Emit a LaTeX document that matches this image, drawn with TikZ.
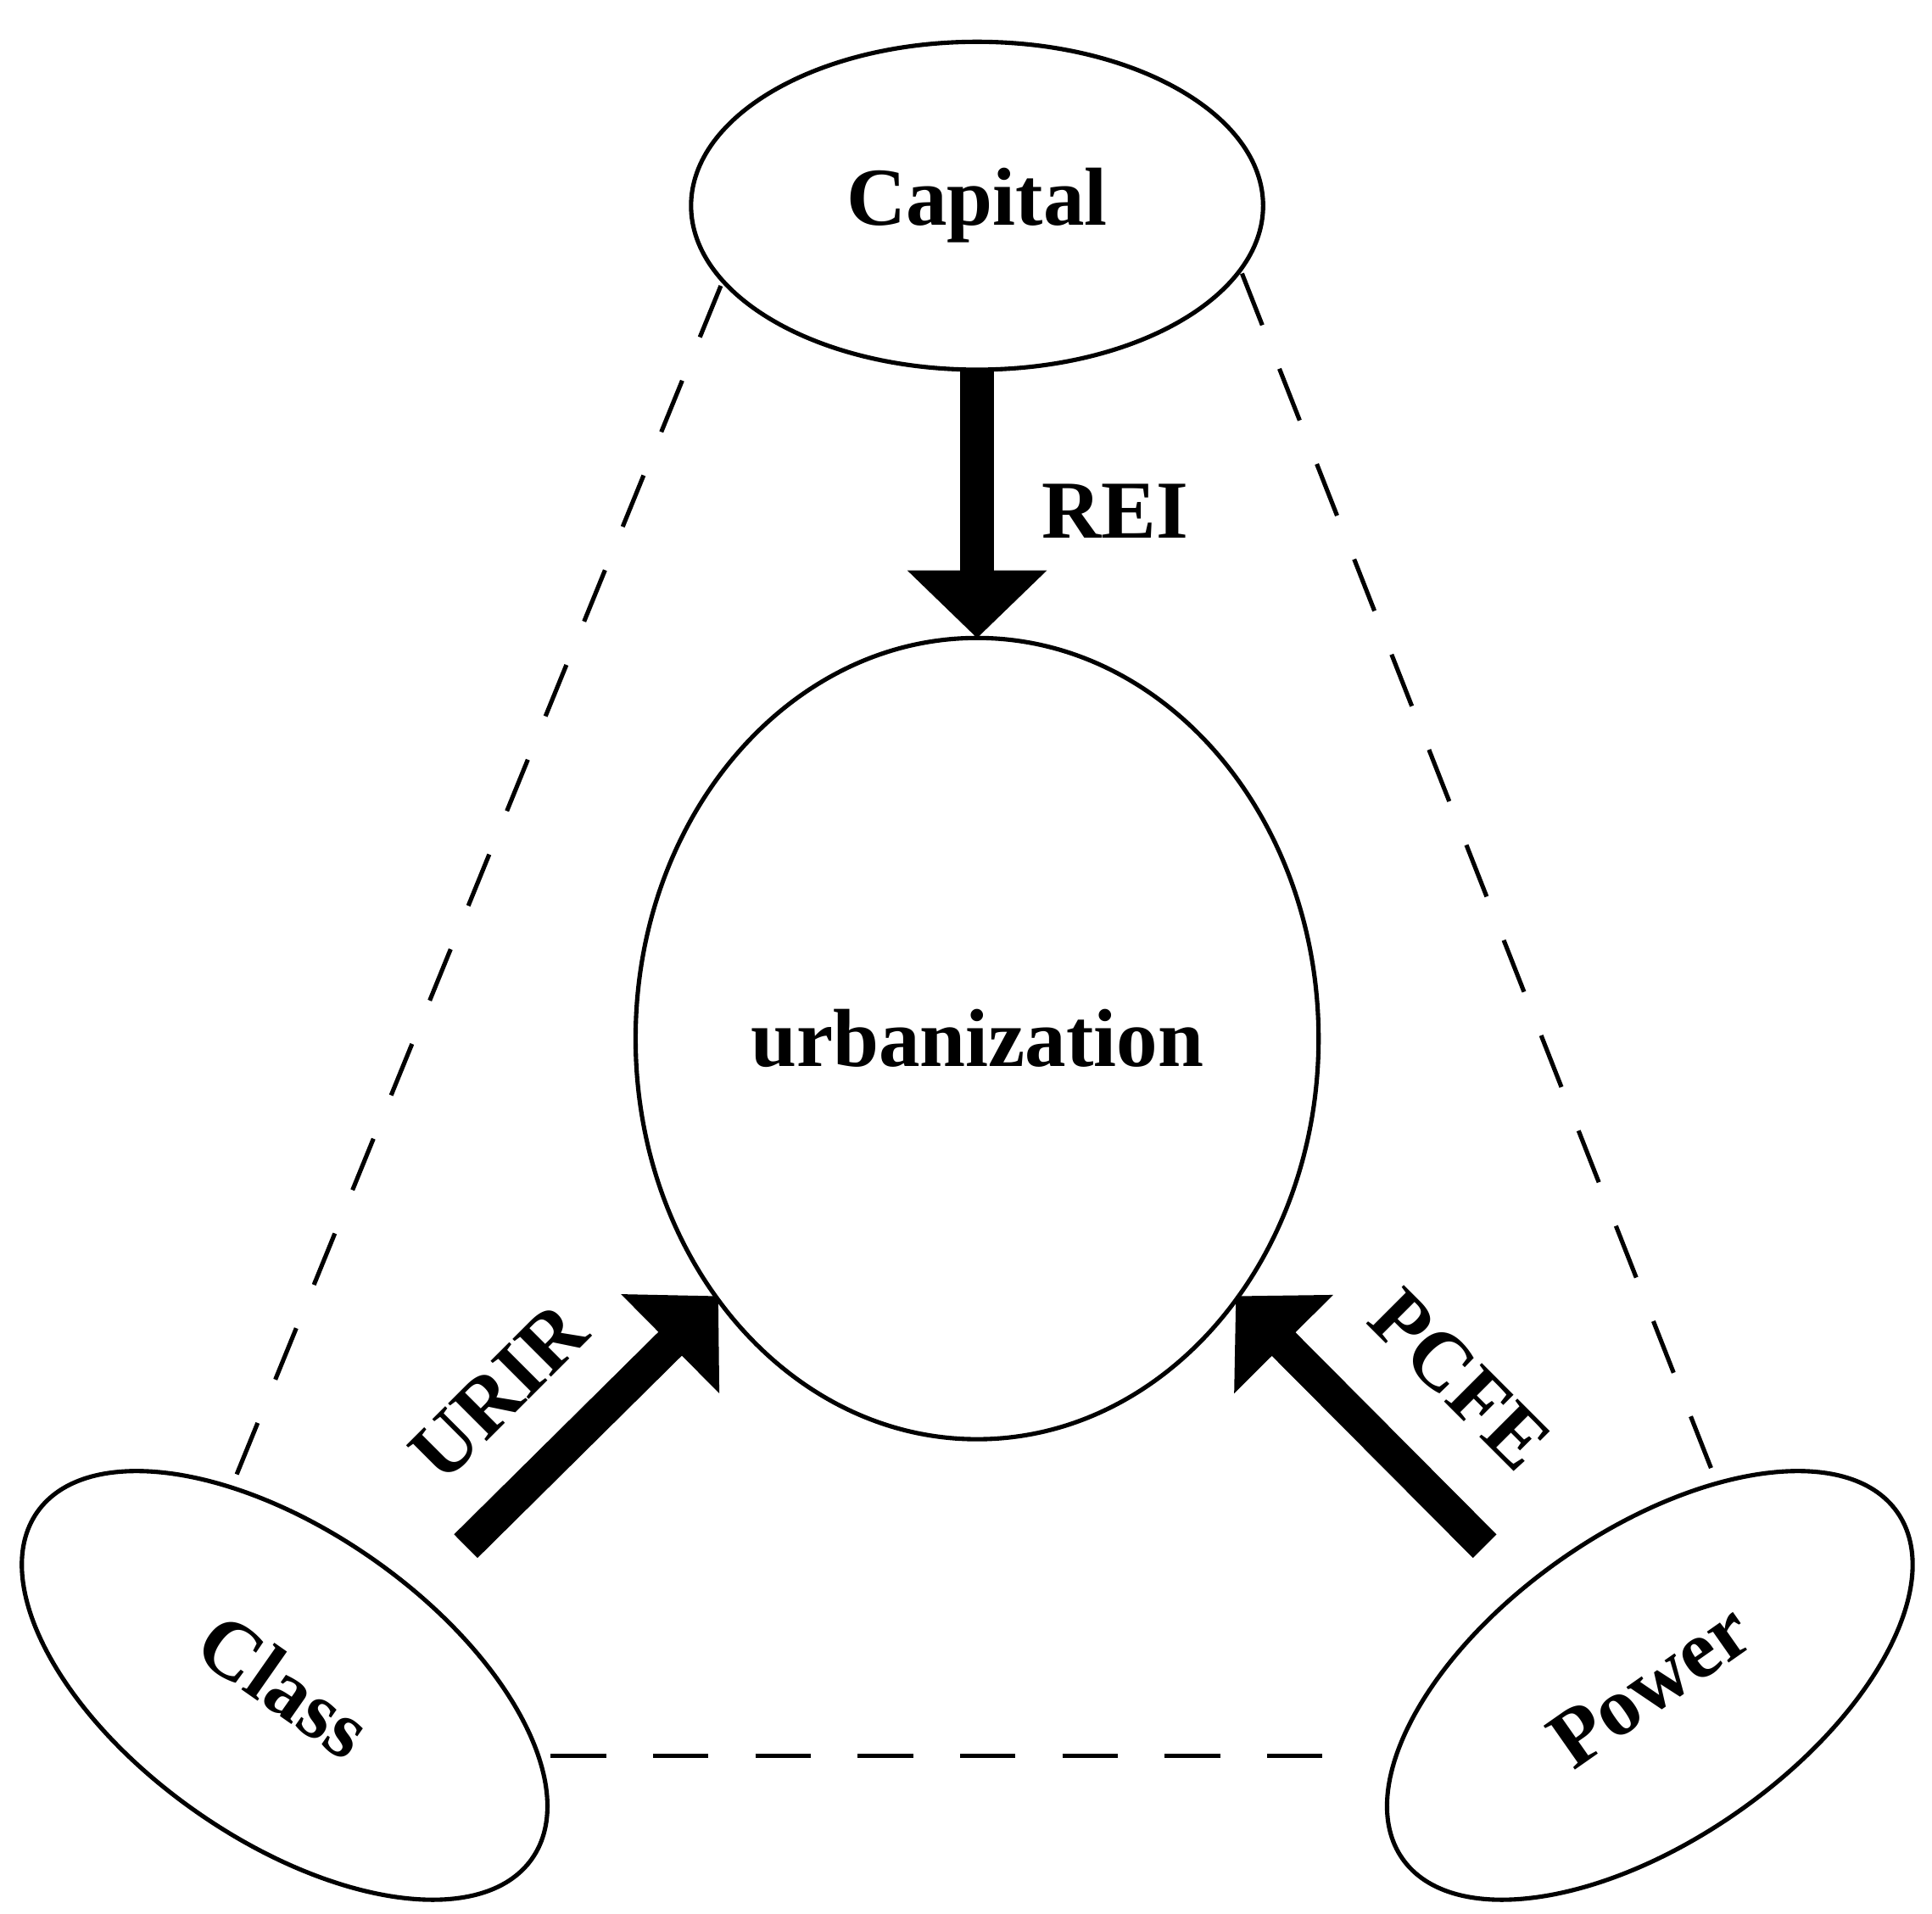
\documentclass[tikz,border=0pt]{standalone}
\usepackage{fontspec}
\setmainfont{Liberation Serif}
\usetikzlibrary{shapes.geometric,arrows.meta}
\begin{document}
\begin{tikzpicture}[x=0.01cm,y=0.01cm,
  ell/.style={draw,ellipse,line width=1pt,inner sep=0pt,font=\fontsize{19}{21}\selectfont\bfseries},
  dashline/.style={line width=1pt,dash pattern=on 0.45cm off 0.38cm},
  big/.style={line width=0.27cm,-{Triangle[width=1.1cm,length=0.55cm]}},
  lab/.style={font=\fontsize{19}{21}\selectfont\bfseries}]
\useasboundingbox (0,0) rectangle (1568,1553);
\node[ell,minimum width=4.64cm,minimum height=2.66cm] (cap) at (793,1386) {Capital};
\node[ell,minimum width=5.54cm,minimum height=6.5cm] (urb) at (793,710) {urbanization};
\node[ell,minimum width=4.9cm,minimum height=2.5cm,rotate=-35] (cls) at (231,185) {Class};
\node[ell,minimum width=4.9cm,minimum height=2.5cm,rotate=35] (pow) at (1339,185) {Power};
\coordinate (c1) at (585,1321); \coordinate (k1) at (192,356);
\coordinate (c2) at (1008,1331); \coordinate (p1) at (1390,358);
\coordinate (k2) at (447,128); \coordinate (p2) at (1098,128);
\draw[dashline] (c1) -- (k1);
\draw[dashline] (c2) -- (p1);
\draw[dashline] (k2) -- (p2);
\coordinate (a1) at (793,1253); \coordinate (a2) at (793,1035);
\coordinate (b1) at (378,298); \coordinate (b2) at (583,501);
\coordinate (d1) at (1205,298); \coordinate (d2) at (1003,501);
\draw[big] (a1) -- (a2);
\draw[big] (b1) -- (b2);
\draw[big] (d1) -- (d2);
\node[lab] (rei) at (905,1138) {REI};
\node[lab,rotate=45] (urir) at (405,423) {URIR};
\node[lab,rotate=-45] (pcfe) at (1185,433) {PCFE};
\end{tikzpicture}
\end{document}
